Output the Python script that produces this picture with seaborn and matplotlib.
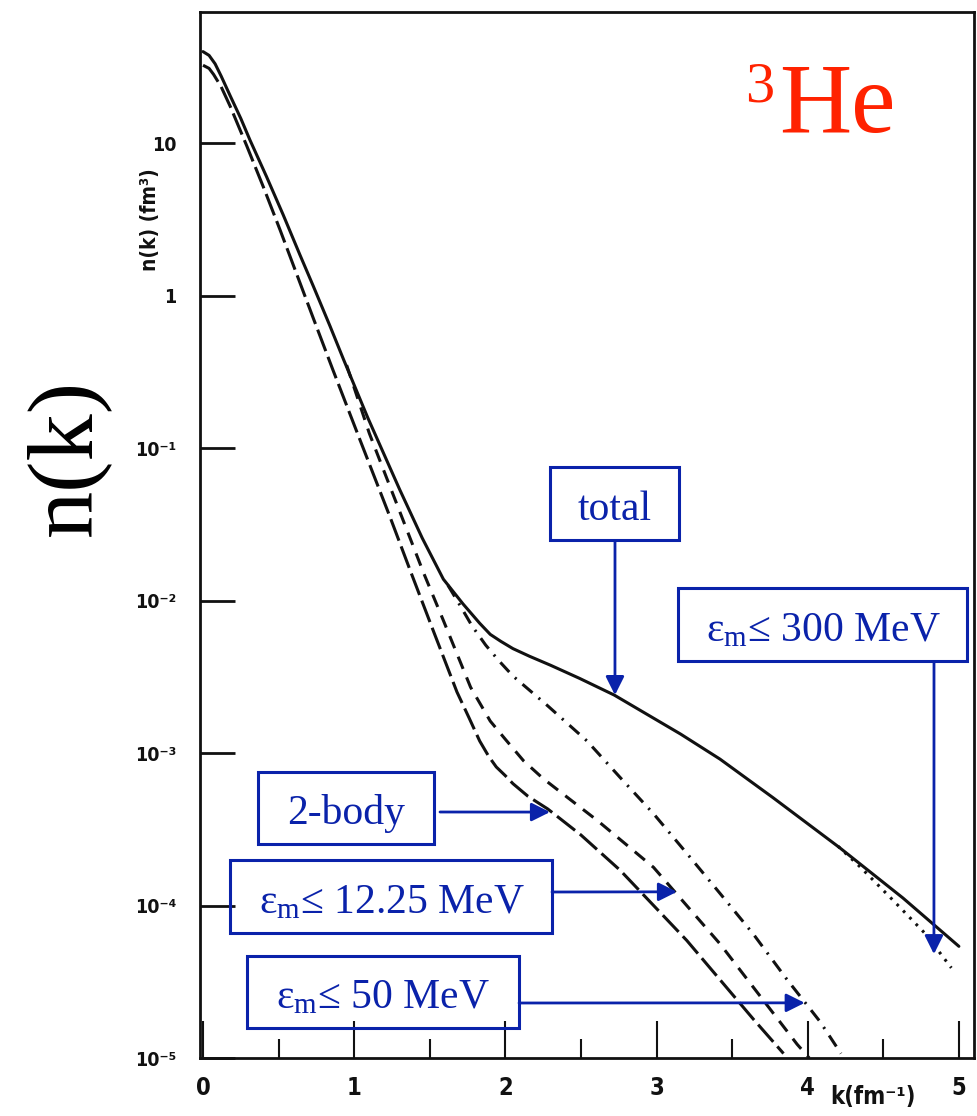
import numpy as np
import pandas as pd
import matplotlib
matplotlib.use("Agg")
import matplotlib.pyplot as plt
import matplotlib.patches as mpatches
import seaborn as sns

# ---------------- data ----------------
k_total = [0, 0.04, 0.08, 0.12, 0.18, 0.25, 0.31, 0.42, 0.53, 0.64, 0.73, 0.84, 0.93, 1.09,
           1.30, 1.45, 1.59, 1.72, 1.83, 1.90, 1.97, 2.05, 2.16, 2.30, 2.49, 2.72, 3.16, 3.42,
           3.77, 4.21, 4.63, 5.0]
n_total = [39.8, 37.6, 33.1, 27.5, 20.4, 14.5, 10.5, 6.03, 3.39, 1.86, 1.15, 0.631, 0.380,
           0.158, 0.0537, 0.0257, 0.0138, 0.0095, 0.0071, 0.0060, 0.0054, 0.00484, 0.00431,
           0.00376, 0.00309, 0.0024, 0.00133, 0.000912, 0.00051, 0.00024, 0.000112, 5.4e-5]

k_2body = [0, 0.04, 0.07, 0.12, 0.18, 0.29, 0.40, 0.51, 0.62, 0.73, 0.86, 1.02, 1.24, 1.37,
           1.52, 1.68, 1.76, 1.83, 1.89, 1.94, 2.00, 2.05, 2.15, 2.28, 2.50, 2.76, 3.20, 3.64,
           3.84]
n_2body = [32.4, 30.9, 28.2, 23.4, 17.4, 9.55, 5.13, 2.69, 1.38, 0.708, 0.324, 0.126, 0.0347,
           0.0158, 0.00646, 0.00251, 0.0017, 0.0012, 0.00095, 0.00081, 0.00071, 0.00063,
           0.00052, 0.00043, 0.00029, 0.00017, 5.9e-5, 1.8e-5, 1.07e-5]

k_e12 = [0.95, 1.10, 1.22, 1.35, 1.46, 1.59, 1.77, 1.90, 2.00, 2.12, 2.25, 2.38, 2.61, 2.98,
         3.42, 3.93, 4.01]
n_e12 = [0.35, 0.125, 0.0617, 0.0288, 0.0151, 0.0074, 0.0027, 0.00162, 0.00123, 0.00089,
         0.00068, 0.00054, 0.00036, 0.000178, 5.6e-5, 1.23e-5, 1.0e-5]

k_e50 = [1.62, 1.70, 1.78, 1.87, 1.96, 2.05, 2.28, 2.54, 2.76, 2.98, 3.20, 3.42, 3.64, 3.86,
         4.08, 4.22]
n_e50 = [0.0126, 0.0093, 0.0068, 0.0051, 0.0040, 0.0032, 0.00204, 0.0012, 0.00069, 0.0004,
         0.00022, 0.00012, 6.5e-5, 3.3e-5, 1.74e-5, 1.07e-5]

k_e300 = [4.20, 4.35, 4.59, 4.78, 4.95]
n_e300 = [2.45e-4, 1.78e-4, 1.02e-4, 6.5e-5, 3.9e-5]

x_ticks = [0, 1, 2, 3, 4, 5]
x_ticklabels = ["0", "1", "2", "3", "4", "5"]
y_ticks = [1e1, 1e0, 1e-1, 1e-2, 1e-3, 1e-4, 1e-5]
y_ticklabels = ["10", "1", "10\u207b\u00b9", "10\u207b\u00b2", "10\u207b\u00b3",
                "10\u207b\u2074", "10\u207b\u2075"]

# annotation labels and arrow targets (data coords)
labels = ["total", "ε$_{\\mathrm{m}}$≤ 300 MeV", "2-body",
          "ε$_{\\mathrm{m}}$≤ 12.25 MeV", "ε$_{\\mathrm{m}}$≤ 50 MeV"]
arrow_tips = [(2.725, 2.4e-3), (4.835, 4.8e-5), (2.295, 4.1e-4), (3.135, 1.23e-4), (3.98, 2.3e-5)]

# ---------------- style ----------------
sns.set_theme(style="white")
plt.rcParams["font.family"] = ["Liberation Serif", "DejaVu Serif"]
plt.rcParams["mathtext.fontset"] = "custom"
plt.rcParams["mathtext.rm"] = "Liberation Serif"
plt.rcParams["mathtext.it"] = "Liberation Serif:italic"

W, H = 977, 1116
fig = plt.figure(figsize=(W / 100, H / 100), dpi=100)
ax = fig.add_axes([200 / W, 58 / H, 774 / W, 1046 / H])

blue = "#0a22aa"
black = "#111111"
lw = 2.2

series = [
    (k_total, n_total, "-"),
    (k_2body, n_2body, (0, (7.5, 2.0))),
    (k_e12, n_e12, (0, (4.3, 3.0))),
    (k_e50, n_e50, (0, (4.3, 2.6, 0.7, 2.6))),
    (k_e300, n_e300, (0, (0.9, 2.1))),
]
for kx, ny, ls in series:
    df = pd.DataFrame({"k": kx, "n": ny})
    sns.lineplot(data=df, x="k", y="n", ax=ax, color=black, lw=lw, linestyle=ls,
                 sort=False, estimator=None, legend=False)

ax.set_yscale("log")
ax.set_xlim(-0.02, 5.10)
ax.set_ylim(1e-5, 72.4)
ax.set_xlabel("")
ax.set_ylabel("")

for s in ax.spines.values():
    s.set_visible(True)
    s.set_color(black)
    s.set_linewidth(2.0)

tick_font = "DejaVu Sans"
ax.set_xticks(x_ticks)
ax.set_xticklabels(x_ticklabels, fontfamily=tick_font, fontweight="bold", fontsize=17,
                   fontstretch="condensed")
ax.set_xticks([0.5, 1.5, 2.5, 3.5, 4.5], minor=True)
ax.set_yticks(y_ticks)
ax.set_yticklabels(y_ticklabels, fontfamily=tick_font, fontweight="bold", fontsize=14,
                   fontstretch="condensed")
ax.yaxis.set_minor_locator(matplotlib.ticker.NullLocator())
ax.tick_params(axis="x", which="major", direction="in", length=27, width=1.5,
               pad=13, bottom=True, top=False, colors=black)
ax.tick_params(axis="x", which="minor", direction="in", length=14, width=1.5,
               bottom=True, top=False, colors=black)
ax.tick_params(axis="y", which="major", direction="in", length=25, width=2.0,
               pad=17, left=True, right=False, colors=black)


def fx(px):
    return px / W


def fy(py):
    return 1 - py / H


# inner axis labels (scanned figure)
fig.text(fx(150), fy(220), "n(k) (fm\u00b3)", rotation=90, ha="center", va="center",
         fontfamily=tick_font, fontweight="bold", fontsize=15, fontstretch="condensed",
         color=black)
fig.text(fx(873), fy(1097), "k(fm\u207b\u00b9)", ha="center", va="center",
         fontfamily=tick_font, fontweight="bold", fontsize=17, fontstretch="condensed",
         color=black)

# big slide labels
fig.text(fx(67), fy(457), "n(k)", rotation=90, ha="center", va="center",
         fontsize=68, color="black")
fig.text(fx(779), fy(132), "He", ha="left", va="baseline", fontsize=72, color="#ff2200")
fig.text(fx(745), fy(101), "3", ha="left", va="baseline", fontsize=42, color="#ff2200")

# boxes: (x0, y0, x1, y1) in pixels, text center x
boxes = [(550, 467, 679, 540, 615), (678, 588, 967, 661, 823), (258, 772, 434, 844, 346),
         (230, 860, 552, 933, 392), (247, 956, 519, 1028, 383)]
arrow_starts = [(615, 541), (934, 663), (440, 812), (552, 892), (519, 1003)]

for (x0, y0, x1, y1, cx), lab in zip(boxes, labels):
    rect = mpatches.Rectangle((fx(x0), fy(y1)), (x1 - x0) / W, (y1 - y0) / H,
                              transform=fig.transFigure, fill=False, edgecolor=blue, lw=2.2)
    fig.add_artist(rect)
    fig.text(fx(cx), fy(y1 - 20), lab, ha="center", va="baseline", fontsize=30, color=blue)

for (sx, sy), tip in zip(arrow_starts, arrow_tips):
    ax.annotate("", xy=tip, xycoords="data", xytext=(sx, H - sy), textcoords="figure pixels",
                arrowprops=dict(arrowstyle="-|>,head_length=0.4,head_width=0.2",
                                color=blue, lw=2.0, mutation_scale=28,
                                shrinkA=0, shrinkB=0))

fig.savefig("out.png", dpi=100)
